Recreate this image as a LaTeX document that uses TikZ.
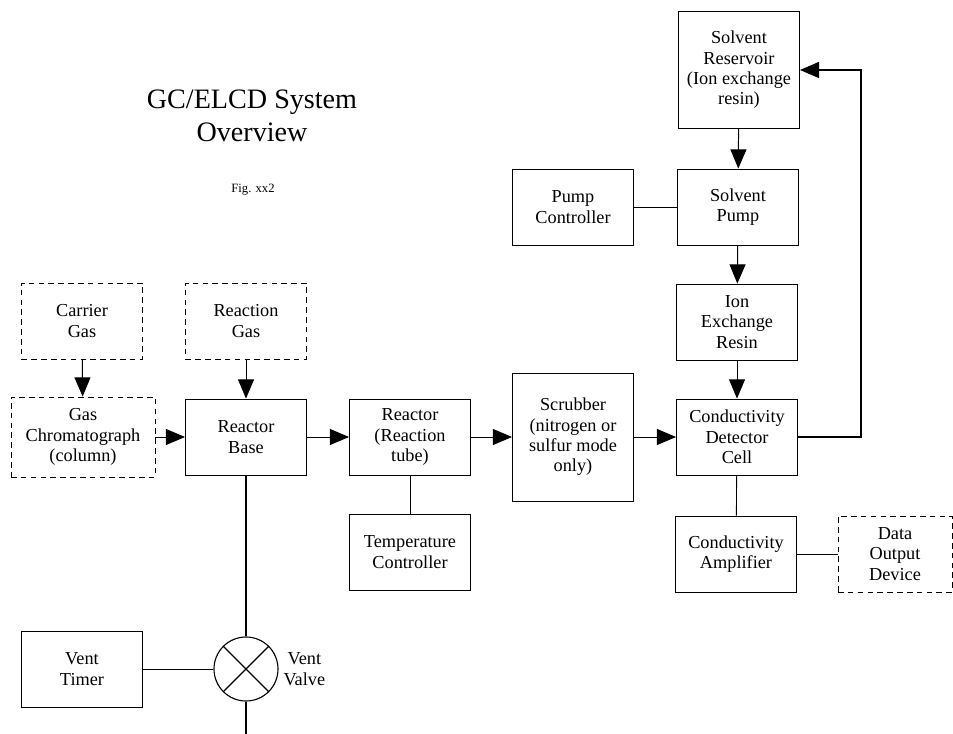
\documentclass[tikz,border=0pt]{standalone}
\usepackage{fontspec}
\setmainfont{Liberation Serif}
\usepackage{tikz}
\usetikzlibrary{arrows.meta,shapes}
\tikzstyle{block}=[draw,line width=0.6pt,minimum width=3.025cm,minimum height=1.9cm,align=center,inner sep=2pt,font=\fontsize{13}{14.5}\selectfont]
\tikzstyle{extern}=[block,dash pattern=on 4pt off 3pt]
\tikzstyle{flow} = [draw,line width=0.7pt,-{Triangle[length=0.48cm,width=0.4cm]}]
\tikzstyle{link} = [draw,line width=0.6pt,-]

\begin{document}
\begin{tikzpicture}[x=0.025cm,y=-0.025cm]
    \useasboundingbox (0,0) rectangle (953,734);
    % Title and figure number
    \node[font=\fontsize{20}{23}\selectfont,align=center] (title) at (252,116) {GC/ELCD System\\Overview};
    \node[font=\fontsize{9}{11}\selectfont] (fignum) at (253,190) {Fig. xx2};
    % Gas side
    \node[extern] (carrier) at (82,321) {Carrier\\Gas};
    \node[extern] (rgas) at (246,321) {Reaction\\Gas};
    \node[extern,minimum width=3.6cm,minimum height=2cm] (gc) at (83,437) {Gas\\Chromatograph\\(column)};
    \node[block] (base) at (246,437) {Reactor\\Base};
    \node[block] (reactor) at (410,437) {Reactor\\(Reaction\\tube)};
    \node[block] (temp) at (410,552) {Temperature\\Controller};
    \node[block,minimum height=3.2cm] (scrub) at (573,437) {Scrubber\\(nitrogen or\\sulfur mode\\only)};
    % Solvent loop
    \node[block,minimum height=2.925cm] (reservoir) at (739,70) {Solvent\\Reservoir\\(Ion exchange\\resin)};
    \node[block] (pump) at (738,207) {Solvent\\Pump};
    \node[block] (pctrl) at (573,207) {Pump\\Controller};
    \node[block] (ionex) at (737,322) {Ion\\Exchange\\Resin};
    \node[block] (cell) at (737,437) {Conductivity\\Detector\\Cell};
    \node[block] (amp) at (736,554) {Conductivity\\Amplifier};
    \node[extern,minimum width=2.85cm] (dataout) at (895,554) {Data\\Output\\Device};
    % Vent
    \node[block] (timer) at (82,669) {Vent\\Timer};
    \node[draw,circle,minimum size=1.6cm,line width=0.8pt] (valve) at (246,669) {};
    \node[right,align=center,font=\fontsize{13}{14.5}\selectfont] (vlabel) at (valve.east) {Vent\\Valve};
    \coordinate (outlet) at (246,734);
    \coordinate (ret) at (861,70);
    \draw[line width=0.8pt] (valve.45) -- (valve.225) (valve.135) -- (valve.315);
    % Arrows
    \foreach \source/ \dest in {carrier/gc, rgas/base, gc/base, base/reactor, reactor/scrub, scrub/cell, reservoir/pump, pump/ionex, ionex/cell}
        \path[flow] (\source) -- (\dest);
    \path[flow,line width=1.3pt] (cell.east) -| (ret) -- (reservoir.east);
    % Plain connections
    \foreach \source/ \dest in {pctrl/pump, reactor/temp, cell/amp, amp/dataout, timer/valve}
        \path[link] (\source) -- (\dest);
    \path[link,line width=1.3pt] (base) -- (valve) -- (outlet);
\end{tikzpicture}
\end{document}
